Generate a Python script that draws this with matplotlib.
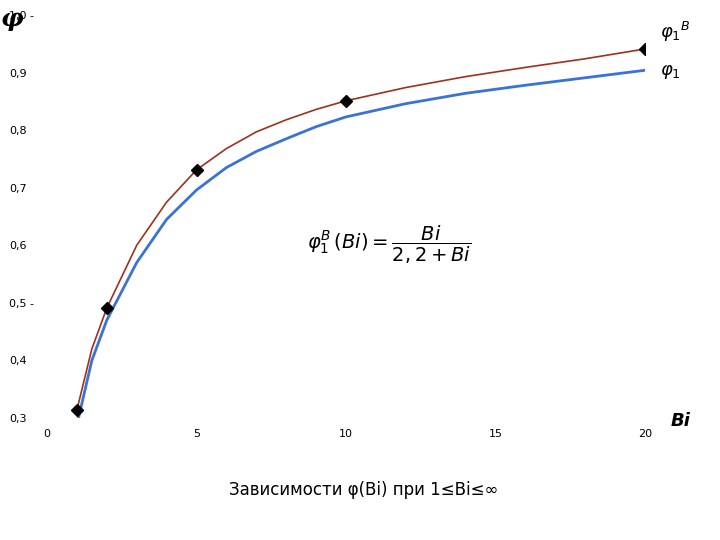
import matplotlib
matplotlib.use("Agg")
import matplotlib.pyplot as plt

bi_red = [1, 1.5, 2, 3, 4, 5, 6, 7, 8, 9, 10, 12, 14, 16, 18, 20]
phi_red = [0.314, 0.42, 0.491, 0.60, 0.675, 0.731, 0.768, 0.797, 0.818, 0.836, 0.851, 0.874, 0.893, 0.909, 0.924, 0.941]
bi_blue = [1, 1.5, 2, 3, 4, 5, 6, 7, 8, 9, 10, 12, 14, 16, 18, 20]
phi_blue = [0.288, 0.40, 0.470, 0.57, 0.645, 0.696, 0.735, 0.763, 0.785, 0.806, 0.823, 0.846, 0.864, 0.878, 0.891, 0.904]
bi_pts = [1, 2, 5, 10, 20]
phi_pts = [0.314, 0.491, 0.731, 0.851, 0.941]
xticks = [0, 5, 10, 15, 20]
yticks = [0.3, 0.4, 0.5, 0.6, 0.7, 0.8, 0.9, 1.0]
ylabels = ["0,3", "0,4", "0,5 -", "0,6", "0,7", "0,8", "0,9", "1,0 -"]

fig = plt.figure(figsize=(7.2, 5.4), dpi=100)
ax = fig.add_axes([47/720, 1-418/540, (645-47)/720, (418-15)/540])
ax.plot(bi_red, phi_red, color="#a0301e", lw=1.2)
ax.plot(bi_blue, phi_blue, color="#3a72d8", lw=2)
ax.plot(bi_pts, phi_pts, "D", color="black", ms=6)
ax.set_xlim(0, 20)
ax.set_ylim(0.3, 1.0)
for s in ax.spines.values():
    s.set_visible(False)
ax.set_xticks(xticks)
ax.set_xticklabels([str(t) for t in xticks], fontsize=8)
ax.set_yticks(yticks)
ax.set_yticklabels(ylabels, fontsize=8)
ax.tick_params(length=0, pad=8)
for lab in ax.get_yticklabels():
    lab.set_horizontalalignment("left")
    lab.set_x(-0.045)
ax.text(-0.04, 0.99, "φ", transform=ax.transAxes, fontsize=18, fontstyle="italic", fontweight="bold", ha="right", va="center", family="DejaVu Serif")
ax.text(20.5, 0.96, r"$\varphi_1{}^B$", fontsize=13)
ax.text(20.5, 0.895, r"$\varphi_1$", fontsize=13)
ax.text(21.2, 0.295, "Bi", fontsize=13, fontstyle="italic", fontweight="bold", ha="center", va="center")
ax.text(8.7, 0.6, r"$\varphi_1^B\,(Bi) = \dfrac{Bi}{2,2+Bi}$", fontsize=14, ha="left", va="center", family="serif")
fig.text(0.505, 0.093, "Зависимости φ(Bi) при 1≤Bi≤∞", fontsize=12, ha="center", va="center")
fig.savefig("out.png")
